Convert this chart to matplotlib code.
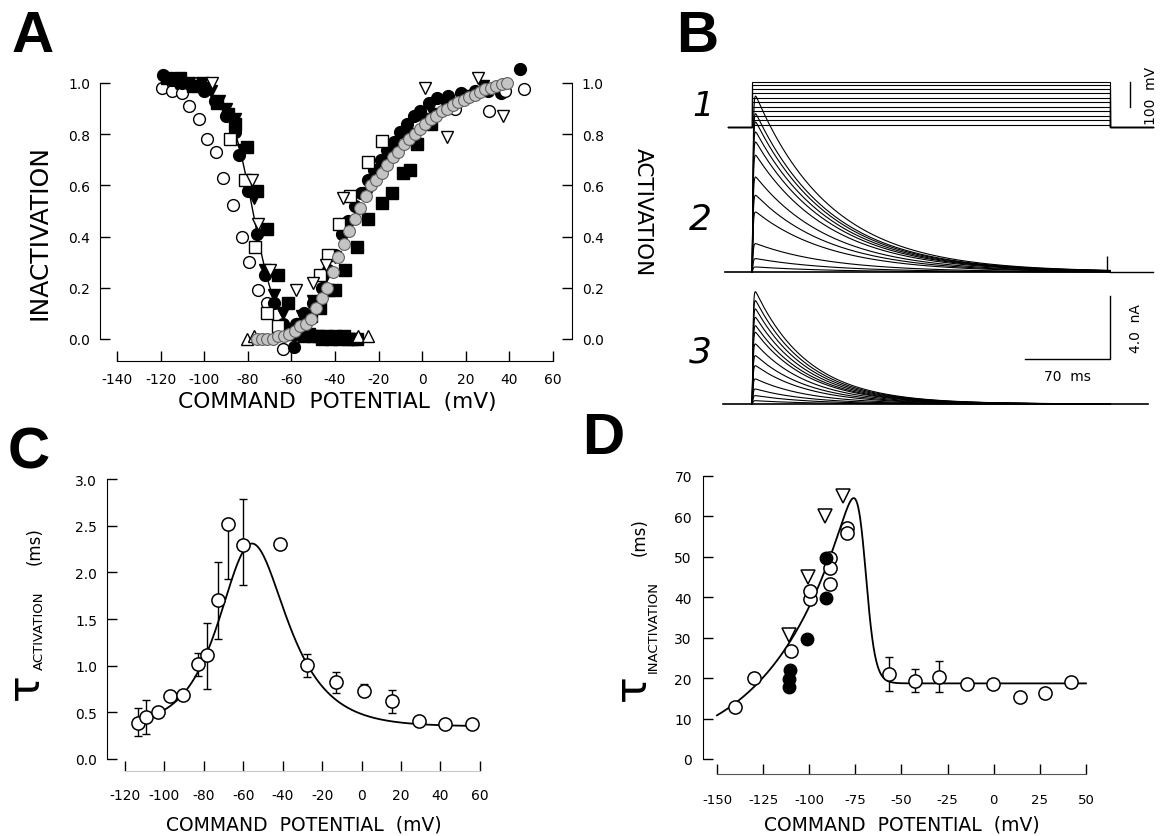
import numpy as np
import matplotlib
matplotlib.use("Agg")
import matplotlib.pyplot as plt

plt.rcParams['font.family'] = ['DejaVu Sans']
plt.rcParams['axes.unicode_minus'] = False

W, H = 1163, 837

# ---------------- DATA ----------------
# Panel A : inactivation (steady state) and activation curves
inact_fc_v = [-119, -115, -110, -105, -100, -95, -90, -86, -84, -80, -76, -72, -68, -64, -59]
inact_fc_y = [1.03, 1.01, 1.00, 0.99, 0.97, 0.93, 0.87, 0.81, 0.72, 0.58, 0.41, 0.25, 0.14, 0.06, -0.03]
inact_fs_v = [-117, -111, -105, -99, -94, -89, -86, -80.5, -76, -71, -66, -61.5]
inact_fs_y = [1.02, 1.02, 0.99, 0.98, 0.92, 0.88, 0.84, 0.75, 0.58, 0.43, 0.25, 0.14]
inact_ft_v = [-113, -107, -101, -97, -93, -90, -86, -82, -77, -72, -68, -64]
inact_ft_y = [1.00, 1.00, 1.00, 0.97, 0.93, 0.90, 0.86, 0.74, 0.55, 0.27, 0.17, 0.10]
inact_os_v = [-88, -81.3, -76.5, -71, -66]
inact_os_y = [0.78, 0.62, 0.36, 0.10, 0.05]
inact_ot_v = [-96.5, -78.3, -75.2, -70]
inact_ot_y = [1.00, 0.62, 0.45, 0.27]
inact_oc_v = [-119.5, -115, -110.4, -106.9, -102.4, -98.9, -94.6, -91.2, -86.6, -82.8, -79.3, -75.5, -71.3, -63.7]
inact_oc_y = [0.98, 0.97, 0.96, 0.91, 0.86, 0.78, 0.73, 0.63, 0.525, 0.40, 0.30, 0.19, 0.14, -0.04]
inact_fit_vh, inact_fit_k = -77.7, 5.7
zero_fs_v = [-64, -62, -60, -58, -56, -54, -52, -50, -48, -46, -44, -42, -40, -38, -36, -34, -32, -30]
zero_fs_y = [0.03, 0.02, 0.03, 0.02, 0.02, 0.01, 0.02, 0.01, 0.01, 0.00, 0.01, 0.00, 0.01, 0.00, 0.01, 0.00, 0.00, 0.00]
zero_ut_v = [-80.5, -77, -29.5, -25]
zero_ut_y = [0.00, 0.01, 0.01, 0.01]

act_grey_v = [-76, -73.5, -71, -68.5, -66, -63.5, -61, -58.5, -56, -53.5, -51, -48.5, -46, -43.5, -41,
              -38.5, -36, -33.5, -31, -28.5, -26, -23.5, -21, -18.5, -16, -13.5, -11, -8.5, -6, -3.5,
              -1, 1.5, 4, 6.5, 9, 11.5, 14, 16.5, 19, 21.5, 24, 26.5, 29, 31.5, 34, 36.5, 39]
act_grey_y = [0.00, 0.00, 0.00, 0.00, 0.01, 0.01, 0.02, 0.03, 0.05, 0.06, 0.08, 0.12, 0.16, 0.20, 0.26,
              0.32, 0.37, 0.42, 0.47, 0.51, 0.56, 0.60, 0.62, 0.65, 0.68, 0.71, 0.73, 0.76, 0.78, 0.80,
              0.82, 0.84, 0.86, 0.87, 0.89, 0.90, 0.915, 0.925, 0.935, 0.945, 0.955, 0.965, 0.975, 0.98, 0.99, 0.995, 1.0]
act_fc_v = [-66, -62, -58, -54, -50, -46, -43, -40, -37, -34, -31, -28, -25, -22, -19, -16, -13,
            -10, -7, -4, -1, 3, 7, 12, 18, 24, 30, 36, 45]
act_fc_y = [0.02, 0.03, 0.06, 0.10, 0.14, 0.20, 0.27, 0.33, 0.41, 0.46, 0.52, 0.57, 0.62, 0.66, 0.70,
            0.74, 0.77, 0.81, 0.84, 0.87, 0.89, 0.92, 0.94, 0.95, 0.96, 0.97, 0.97, 0.96, 1.055]
act_ft_v = [-60, -55, -50, -45, -40, -35, -30, -25, -20, -15, -10, -5, 0, 5, 10, 20, 28]
act_ft_y = [0.04, 0.09, 0.15, 0.23, 0.32, 0.42, 0.50, 0.57, 0.64, 0.70, 0.75, 0.80, 0.86, 0.88, 0.92, 0.95, 0.99]
act_fs_v = [-55, -51, -47, -43, -40, -35.5, -30, -25, -18.5, -14, -8.7, -5.5, -2.6, 4]
act_fs_y = [0.06, 0.09, 0.12, 0.19, 0.19, 0.27, 0.36, 0.47, 0.53, 0.57, 0.65, 0.66, 0.76, 0.84]
act_os_v = [-47, -43, -38, -33, -24.7, -18.6]
act_os_y = [0.25, 0.33, 0.45, 0.56, 0.69, 0.775]
act_ot_v = [-58, -50, -44, -36.2, 1.3, 11.5, 25.7, 37.2]
act_ot_y = [0.19, 0.22, 0.29, 0.55, 0.98, 0.79, 1.02, 0.87]
act_oc_v = [15, 30.5, 38, 46.5]
act_oc_y = [0.90, 0.89, 0.97, 0.975]

# Panel B : voltage protocol and current families
hold_mv = -120
step_mv = [-111, -92, -75, -57, -39, -21, -4, 15, 32, 48, 61]
step_ms = 295
amp2_na = [11.17, 10.05, 9.52, 8.89, 8.25, 7.41, 6.03, 4.87, 3.81, 1.80, 0.85, 0.32]
amp3_na = [7.13, 6.56, 6.03, 5.50, 4.97, 4.55, 3.81, 3.07, 2.43, 1.59, 0.95, 0.53, 0.21]
tau_rise_ms = 0.5
tau_dec2_ms = 62
tau_dec3_ms = 44
artifact2_na = 1.0

# Panel C : activation time constant
c_v = [-113.6, -109.5, -103.1, -97.2, -90.8, -83.2, -78.3, -72.7, -67.6, -60, -41.2, -27.7, -12.9, 1.3, 15.4, 28.9, 42.4, 55.8]
c_tau = [0.39, 0.45, 0.50, 0.68, 0.69, 1.02, 1.11, 1.70, 2.52, 2.29, 2.30, 1.01, 0.83, 0.73, 0.62, 0.41, 0.38, 0.37]
c_err_lo = [0.14, 0.18, 0, 0, 0, 0.13, 0.36, 0.41, 0.59, 0.43, 0, 0.13, 0.12, 0.05, 0.13, 0, 0, 0]
c_err_hi = [0.16, 0.18, 0, 0, 0, 0.12, 0.35, 0.41, 0, 0.50, 0, 0.12, 0.10, 0.07, 0.12, 0, 0, 0]
c_fit = dict(c=0.35, A=3.9, vh=-57.0, k1=16.8, k2=13.9, vmin=-113, vmax=56)

# Panel D : inactivation time constant
d_oc_v = [-140.1, -130.1, -109.7, -99.4, -99.4, -88.6, -88.6, -88.6, -79.5, -79.5, -57, -42.9, -29.5, -14.5, -0.4, 14, 28, 41.9]
d_oc_tau = [12.9, 20.0, 26.6, 39.5, 41.6, 49.6, 47.2, 43.4, 57.2, 56.0, 21.0, 19.4, 20.4, 18.6, 18.6, 15.4, 16.3, 19.1]
d_oc_err = [0, 0, 0, 0, 0, 0, 0, 0, 0, 0, 4.3, 2.9, 3.9, 0, 0, 0, 0.8, 0]
d_fc_v = [-111.2, -111.2, -110.3, -101.2, -91, -91]
d_fc_tau = [17.8, 19.8, 22.0, 29.6, 39.7, 49.8]
d_tri_v = [-111.2, -100.7, -91.6, -81.9]
d_tri_tau = [30.6, 45.0, 60.0, 65.0]
d_fit = dict(a=10.8, k=40.0, vc=-70.0, w=2.5, c=18.7, vmin=-150, vmax=50)

# ---------------- FIGURE ----------------
fig = plt.figure(figsize=(W / 100, H / 100), dpi=100)


def rect(l, t, r, b):
    return [l / W, 1 - b / H, (r - l) / W, (b - t) / H]


def ftext(x, y, s, **kw):
    fig.text(x / W, 1 - y / H, s, ha=kw.pop('ha', 'center'), va=kw.pop('va', 'center'), **kw)


# ---- Panel A ----
axA = fig.add_axes(rect(100, 63.5, 572, 362))
axA.set_xlim(-147.8, 68.7)
axA.set_ylim(-0.086, 1.08)
axA.patch.set_alpha(0)
axA.spines['top'].set_visible(False)
axA.spines['left'].set_bounds(0, 1)
axA.spines['right'].set_bounds(0, 1)
axA.spines['bottom'].set_bounds(-140, 60)
axA.set_xticks(np.arange(-140, 61, 20))
axA.set_yticks(np.arange(0, 1.01, 0.2))
axA.set_yticklabels(['%.1f' % v for v in np.arange(0, 1.01, 0.2)])
axA.tick_params(direction='in', length=7, width=1, labelsize=10)
axA.tick_params(axis='y', right=True, labelright=True, pad=7)
axA.tick_params(axis='x', pad=8)

ms = 8.5
common = dict(linestyle='none', markersize=ms, markeredgewidth=1.0, markeredgecolor='black')
vfit = np.linspace(-90, -63, 60)
axA.plot(vfit, 1 / (1 + np.exp((vfit - inact_fit_vh) / inact_fit_k)), color='black', lw=1.0, zorder=2)
axA.plot(inact_oc_v, inact_oc_y, marker='o', markerfacecolor='white', zorder=3, **common)
axA.plot(inact_fc_v, inact_fc_y, marker='o', markerfacecolor='black', zorder=3, **common)
axA.plot(inact_fs_v, inact_fs_y, marker='s', markerfacecolor='black', zorder=3, **common)
axA.plot(inact_ft_v, inact_ft_y, marker='v', markerfacecolor='black', zorder=3, **common)
axA.plot(inact_os_v, inact_os_y, marker='s', markerfacecolor='white', zorder=4, **common)
axA.plot(inact_ot_v, inact_ot_y, marker='v', markerfacecolor='white', zorder=4, **common)
axA.plot(zero_fs_v, zero_fs_y, marker='s', markerfacecolor='black', zorder=3, **common)
axA.plot(zero_ut_v, zero_ut_y, marker='^', markerfacecolor='white', zorder=4, **common)
axA.plot(act_fs_v, act_fs_y, marker='s', markerfacecolor='black', zorder=3, **common)
axA.plot(act_fc_v, act_fc_y, marker='o', markerfacecolor='black', zorder=3, **common)
axA.plot(act_ft_v, act_ft_y, marker='v', markerfacecolor='black', zorder=3, **common)
axA.plot(act_os_v, act_os_y, marker='s', markerfacecolor='white', zorder=4, **common)
axA.plot(act_ot_v, act_ot_y, marker='v', markerfacecolor='white', zorder=4, **common)
axA.plot(act_oc_v, act_oc_y, marker='o', markerfacecolor='white', zorder=4, **common)
axA.plot(act_grey_v, act_grey_y, linestyle='none', marker='o', markersize=ms, markerfacecolor='#c4c4c4',
         markeredgecolor='#606060', markeredgewidth=0.8, zorder=5)

ftext(40, 233, 'INACTIVATION', rotation=90, fontsize=18)
ftext(643, 212, 'ACTIVATION', rotation=270, fontsize=15.5)
ftext(337, 402, 'COMMAND  POTENTIAL  (mV)', fontsize=15.7)

# ---- Panel B ----
xl = (-50.2, 337.7)
axB1 = fig.add_axes(rect(691, 75, 1162, 135))
axB1.set_xlim(*xl)
axB1.set_ylim(-148, 92)
axB2 = fig.add_axes(rect(691, 90, 1162, 280))
axB2.set_xlim(*xl)
axB2.set_ylim(-0.444, 11.62)
axB3 = fig.add_axes(rect(691, 285, 1162, 412))
axB3.set_xlim(*xl)
axB3.set_ylim(-0.444, 7.619)
for a in (axB1, axB2, axB3):
    a.axis('off')
    a.patch.set_alpha(0)

for v in step_mv:
    axB1.plot([-20, 0, 0, step_ms, step_ms, 330], [hold_mv, hold_mv, v, v, hold_mv, hold_mv],
              color='black', lw=0.8)
# 100 mV bar
axB1.plot([311, 311], [-40, 60], color='black', lw=1.0)
axB1.text(329, 10, '100  mV', rotation=90, ha='center', va='center', fontsize=10)

t = np.linspace(0, step_ms, 1200)


def shape(tt, tdec):
    g = (1 - np.exp(-tt / tau_rise_ms)) ** 3 * np.exp(-tt / tdec)
    return g / g.max()


for a in amp2_na:
    axB2.plot(t, a * shape(t, tau_dec2_ms), color='black', lw=0.8)
axB2.plot([-22, 0], [0, 0], color='black', lw=1.2)
axB2.plot([step_ms, 330], [0, 0], color='black', lw=1.0)
axB2.plot([0, step_ms], [0, 0], color='black', lw=1.2)
axB2.vlines(step_ms - 3, 0, artifact2_na, color='black', lw=1.0)

for a in amp3_na:
    axB3.plot(t, a * shape(t, tau_dec3_ms), color='black', lw=0.8)
axB3.plot([-24, 326], [0, 0], color='black', lw=1.2)
# scale bars
axB3.plot([225, 295, 295], [2.86, 2.86, 6.86], color='black', lw=1.0)
axB3.text(260, 1.75, '70  ms', ha='center', va='center', fontsize=10)
axB3.text(316, 4.86, '4.0  nA', rotation=90, ha='center', va='center', fontsize=10)

ftext(703, 107, '1', fontsize=24, style='italic')
ftext(700, 220, '2', fontsize=26, style='italic')
ftext(700, 353, '3', fontsize=26, style='italic')

# ---- Panel C ----
axC = fig.add_axes(rect(107, 475, 490, 772))
axC.set_xlim(-129.1, 65.1)
axC.set_ylim(-0.129, 3.054)
axC.patch.set_alpha(0)
axC.spines['top'].set_visible(False)
axC.spines['right'].set_visible(False)
axC.spines['left'].set_bounds(0, 3)
axC.spines['bottom'].set_bounds(-120, 60)
axC.spines['bottom'].set_color('#c8c8c8')
axC.set_xticks(np.arange(-120, 61, 20))
axC.set_yticks(np.arange(0, 3.01, 0.5))
axC.set_yticklabels(['%.1f' % v for v in np.arange(0, 3.01, 0.5)])
axC.tick_params(direction='in', length=7, width=1, labelsize=10)
axC.tick_params(axis='x', pad=12, labelsize=10)
axC.tick_params(axis='y', pad=7)

vc = np.linspace(c_fit['vmin'], c_fit['vmax'], 400)
x0 = vc - c_fit['vh']
axC.plot(vc, c_fit['c'] + c_fit['A'] / (np.exp(x0 / c_fit['k1']) + np.exp(-x0 / c_fit['k2'])),
         color='black', lw=1.3, zorder=2)
cv = np.array(c_v)
ct = np.array(c_tau)
lo = np.array(c_err_lo)
hi = np.array(c_err_hi)
m = (lo + hi) > 0
axC.errorbar(cv[m], ct[m], yerr=[lo[m], hi[m]], fmt='none', ecolor='black', elinewidth=1.0,
             capsize=3, capthick=1.0, zorder=3)
axC.plot(cv, ct, linestyle='none', marker='o', markersize=9.5, markerfacecolor='white',
         markeredgecolor='black', markeredgewidth=1.1, zorder=4)

ftext(25, 687, 'τ', rotation=90, fontsize=32)
ftext(39, 631, 'ACTIVATION', rotation=90, fontsize=9.5)
ftext(35, 546, '(ms)', rotation=90, fontsize=12)
ftext(304, 825, 'COMMAND  POTENTIAL  (mV)', fontsize=13.5)

# ---- Panel D ----
axD = fig.add_axes(rect(703, 475, 1090, 775))
axD.set_xlim(-157.6, 52.2)
axD.set_ylim(-3.71, 70.49)
axD.patch.set_alpha(0)
axD.spines['top'].set_visible(False)
axD.spines['right'].set_visible(False)
axD.spines['left'].set_bounds(0, 70)
axD.spines['bottom'].set_bounds(-150, 50)
axD.spines['bottom'].set_color('#555555')
axD.set_xticks(np.arange(-150, 51, 25))
axD.set_yticks(np.arange(0, 71, 10))
axD.tick_params(direction='in', length=7, width=1, labelsize=10)
axD.tick_params(axis='x', pad=14, labelsize=9.5)
axD.tick_params(axis='y', pad=8)

vd = np.linspace(d_fit['vmin'], d_fit['vmax'], 800)
f = d_fit['a'] * np.exp((vd - d_fit['vmin']) / d_fit['k'])
s = 1 / (1 + np.exp(-(vd - d_fit['vc']) / d_fit['w']))
axD.plot(vd, f * (1 - s) + d_fit['c'] * s, color='black', lw=1.3, zorder=2)
dv = np.array(d_oc_v)
dt = np.array(d_oc_tau)
de = np.array(d_oc_err)
m = de > 0
axD.errorbar(dv[m], dt[m], yerr=de[m], fmt='none', ecolor='black', elinewidth=1.0,
             capsize=3, capthick=1.0, zorder=3)
axD.plot(dv, dt, linestyle='none', marker='o', markersize=9.5, markerfacecolor='white',
         markeredgecolor='black', markeredgewidth=1.1, zorder=4)
axD.plot(d_fc_v, d_fc_tau, linestyle='none', marker='o', markersize=9, markerfacecolor='black',
         markeredgecolor='black', zorder=5)
axD.plot(d_tri_v, d_tri_tau, linestyle='none', marker='v', markersize=9.5, markerfacecolor='white',
         markeredgecolor='black', markeredgewidth=1.1, zorder=4)

ftext(632, 688, 'τ', rotation=90, fontsize=32)
ftext(653, 627, 'INACTIVATION', rotation=90, fontsize=9.5)
ftext(640, 537, '(ms)', rotation=90, fontsize=12)
ftext(902, 825, 'COMMAND  POTENTIAL  (mV)', fontsize=13.5)

# ---- Panel letters ----
for (x, y, L) in [(12, 52, 'A'), (676, 52, 'B'), (8, 469, 'C'), (582, 454, 'D')]:
    ftext(x, y, L, ha='left', va='baseline', fontsize=42, fontweight='bold', family='Liberation Sans')

fig.savefig('out.png', dpi=100)
